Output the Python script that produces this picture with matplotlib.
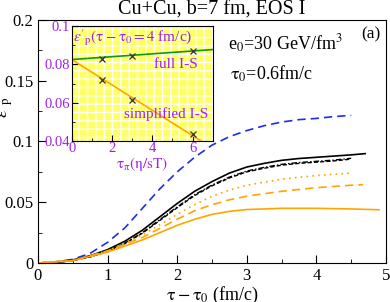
import matplotlib.pyplot as plt
import numpy as np
from matplotlib.ticker import MultipleLocator

plt.rcParams['font.family'] = ['Liberation Serif', 'DejaVu Serif']
plt.rcParams['mathtext.fontset'] = 'stix'

# main panel curves
x_blue = [0, 0.25, 0.5, 0.75, 1.0, 1.25, 1.5, 1.75, 2.0, 2.25, 2.5, 2.75, 3.0, 3.25, 3.5, 3.75, 4.0, 4.25, 4.5]
y_blue = [0, 0.001, 0.003, 0.008, 0.017, 0.029, 0.045, 0.061, 0.075, 0.087, 0.097, 0.104, 0.109, 0.113, 0.116, 0.118, 0.119, 0.1205, 0.1215]

x_black = [0, 0.25, 0.5, 0.75, 1.0, 1.25, 1.5, 1.75, 2.0, 2.25, 2.5, 2.75, 3.0, 3.25, 3.5, 3.75, 4.0, 4.25, 4.5, 4.7]
y_black = [0, 0.0005, 0.0025, 0.006, 0.011, 0.018, 0.027, 0.038, 0.049, 0.059, 0.067, 0.074, 0.079, 0.082, 0.0845, 0.086, 0.087, 0.088, 0.089, 0.090]
x_black2 = [0, 0.25, 0.5, 0.75, 1.0, 1.25, 1.5, 1.75, 2.0, 2.25, 2.5, 2.75, 3.0, 3.25, 3.5, 3.75, 4.0, 4.25, 4.5]
y_black2 = [0, 0.0004, 0.002, 0.005, 0.0095, 0.016, 0.0245, 0.035, 0.0455, 0.0555, 0.0635, 0.070, 0.075, 0.078, 0.0805, 0.082, 0.083, 0.084, 0.0855]
y_black3 = [0, 0.0004, 0.002, 0.0052, 0.010, 0.0165, 0.025, 0.0357, 0.0462, 0.0562, 0.0642, 0.0707, 0.0757, 0.0787, 0.0812, 0.0827, 0.0837, 0.0847, 0.0862]

x_odot = [0, 0.5, 1.0, 1.5, 2.0, 2.25, 2.5, 2.75, 3.0, 3.5, 4.0, 4.5]
y_odot = [0, 0.002, 0.010, 0.023, 0.040, 0.048, 0.055, 0.060, 0.064, 0.069, 0.072, 0.074]

x_odash = [0, 0.5, 1.0, 1.5, 2.0, 2.25, 2.5, 2.75, 3.0, 3.5, 4.0, 4.5, 4.67]
y_odash = [0, 0.002, 0.010, 0.021, 0.036, 0.043, 0.048, 0.052, 0.055, 0.059, 0.062, 0.064, 0.0645]

x_osol = [0, 0.5, 1.0, 1.25, 1.5, 1.75, 2.0, 2.25, 2.5, 2.75, 3.0, 3.5, 4.0, 4.5, 4.9]
y_osol = [0, 0.002, 0.009, 0.014, 0.019, 0.025, 0.031, 0.036, 0.040, 0.0425, 0.044, 0.045, 0.045, 0.0445, 0.0438]

# inset data
tau_pi = [1.5, 3, 6]
full_is = [0.0830, 0.0843, 0.0868]
simp_is = [0.0720, 0.0614, 0.0435]
fit_x = [0, 7]
full_fit = [0.0825, 0.0877]
simp_fit = [0.0825, 0.0362]

orange = '#ffa500'
purple = '#a020f0'

fig = plt.figure(figsize=(3.9, 3.02), dpi=100)
ax = fig.add_axes([38/390, 1 - 263/302, 348/390, 243/302])

ax.plot(x_blue, y_blue, color='#1f2fe6', ls=(0, (5, 3)), lw=1.2)
ax.plot(x_black, y_black, color='black', lw=1.2)
ax.plot(x_black2, y_black2, color='black', ls=(0, (3, 1.5)), lw=1.0)
ax.plot(x_black2, y_black3, color='black', ls=(0, (4, 1.5, 1, 1.5)), lw=1.0)
ax.plot(x_odot, y_odot, color=orange, ls=(0, (1, 2.5)), lw=1.2)
ax.plot(x_odash, y_odash, color=orange, ls=(0, (5, 3)), lw=1.2)
ax.plot(x_osol, y_osol, color=orange, lw=1.2)

ax.set_xlim(0, 5)
ax.set_ylim(0, 0.2)
ax.xaxis.set_major_locator(MultipleLocator(1))
ax.xaxis.set_minor_locator(MultipleLocator(0.5))
ax.yaxis.set_major_locator(MultipleLocator(0.05))
ax.yaxis.set_minor_locator(MultipleLocator(0.025))
ax.yaxis.set_major_formatter(plt.FuncFormatter(lambda v, p: '0' if abs(v) < 1e-9 else ('%g' % v)))
ax.tick_params(which='both', direction='in', labelsize=12)
ax.tick_params(which='major', length=6)
ax.tick_params(which='minor', length=3)
ax.set_xlabel(r'$\mathrm{\tau-\tau_0}$ (fm/c)', fontsize=13, labelpad=1)
ax.set_ylabel(r"$\varepsilon'_{\rm p}$", fontsize=13)
ax.yaxis.set_label_coords(-0.062, 0.64)
ax.set_title('Cu+Cu, b=7 fm, EOS I', fontsize=14.5, pad=2)
ax.text(0.985, 0.975, '(a)', transform=ax.transAxes, ha='right', va='top', fontsize=12.5)
ax.text(0.546, 0.877, r'e$_0$=30 GeV/fm$^3$', transform=ax.transAxes, fontsize=13)
ax.text(0.552, 0.753, r'$\mathrm{\tau_0}$=0.6fm/c', transform=ax.transAxes, fontsize=13)

ins = fig.add_axes([71.7/390, 1 - 141/302, 141/390, 115/302])
ins.patch.set_facecolor('#ffff66')
ins.patch.set_hatch('++')
ins.patch.set_edgecolor('white')
ins.plot(fit_x, full_fit, color='#119911', lw=1.2)
ins.plot(fit_x, simp_fit, color=orange, lw=1.2)
ins.plot(tau_pi, full_is, 'x', color='#333333', ms=5, mew=0.9)
ins.plot(tau_pi, simp_is, 'x', color='#333333', ms=5, mew=0.9)
ins.set_xlim(0, 7)
ins.set_ylim(0.04, 0.1)
ins.xaxis.set_major_locator(MultipleLocator(2))
ins.xaxis.set_minor_locator(MultipleLocator(1))
ins.yaxis.set_major_locator(MultipleLocator(0.02))
ins.yaxis.set_minor_locator(MultipleLocator(0.01))
ins.yaxis.set_major_formatter(plt.FuncFormatter(lambda v, p: '%g' % v))
ins.tick_params(which='both', direction='in', labelsize=10.5, labelcolor=purple, pad=1)
ins.tick_params(which='major', length=4)
ins.tick_params(which='minor', length=2)
ins.set_xlabel(r'$\mathrm{\tau_\pi(\eta/sT)}$', fontsize=11, color=purple, labelpad=0)
ins.text(0.01, 0.99, r"$\varepsilon'_{\rm p}\mathrm{(\tau-\tau_0=4}$ fm/c)", transform=ins.transAxes,
         ha='left', va='top', fontsize=11, color=purple)
ins.text(0.895, 0.635, 'full I-S', transform=ins.transAxes, ha='right', fontsize=11, color=purple)
ins.text(0.967, 0.2, 'simplified I-S', transform=ins.transAxes, ha='right', fontsize=11, color=purple)

fig.savefig('out.png', dpi=100)
